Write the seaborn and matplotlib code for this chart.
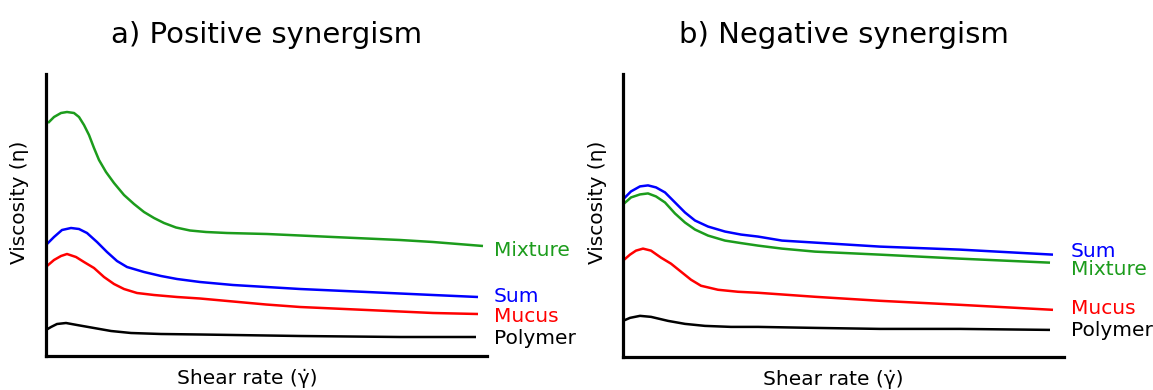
import matplotlib
matplotlib.use("Agg")
import matplotlib.pyplot as plt
import seaborn as sns
import pandas as pd

sns.set_style("white")
plt.rcParams['font.family'] = ['DejaVu Sans']
plt.rcParams['text.color'] = 'black'
plt.rcParams['axes.labelcolor'] = 'black'

# ---------------- data (arbitrary units) ----------------
# Panel a) Positive synergism
a_mix_x = [2, 8, 15, 21, 28, 33, 38, 43, 48, 53, 60, 68, 78, 88, 98, 108, 118, 130, 144, 160, 181, 221, 287, 354, 387, 437]
a_mix_y = [233, 239, 243, 244, 243, 239, 231, 221, 208, 196, 184, 173, 161, 152, 144, 138, 133, 128.5, 125.5, 124, 123, 122, 119, 116, 114, 110]
a_sum_x = [1, 8, 16, 25, 33, 41, 51, 61, 71, 81, 98, 115, 131, 154, 187, 254, 321, 387, 432]
a_sum_y = [112, 119, 126, 128, 127, 123, 114, 104, 95, 89, 84, 80, 77, 74, 71, 67, 64, 61, 59]
a_muc_x = [1, 8, 15, 21, 30, 38, 48, 58, 68, 78, 91, 108, 131, 154, 187, 220, 254, 321, 387, 432]
a_muc_y = [90, 96, 100, 102, 99, 94, 88, 79, 72, 67, 63, 61, 59, 57.5, 54.5, 51.5, 49, 46, 43, 42]
a_pol_x = [0, 5, 11, 20, 31, 48, 65, 85, 115, 154, 254, 354, 430]
a_pol_y = [26, 29, 32, 33, 31, 28, 25, 23, 22, 21.5, 20, 19, 19]

# Panel b) Negative synergism
b_sum_x = [0, 8, 17, 25, 33, 42, 52, 62, 72, 85, 102, 118, 135, 159, 192, 257, 337, 430]
b_sum_y = [157, 165, 170, 171, 169, 164, 154, 144, 136, 130, 125, 122, 120, 116, 114, 110, 107, 102]
b_mix_x = [0, 8, 17, 25, 33, 42, 52, 62, 72, 85, 102, 118, 135, 159, 192, 257, 337, 427]
b_mix_y = [152, 159, 162, 163, 160, 154, 143, 134, 127, 121, 116, 113.5, 111, 108, 105, 102, 98, 94]
b_muc_x = [0, 7, 13, 20, 28, 38, 48, 58, 68, 78, 95, 115, 135, 192, 257, 337, 430]
b_muc_y = [96, 102, 106, 108, 106, 99, 93, 85, 77, 71, 67, 65, 64, 60, 56, 52, 47]
b_pol_x = [0, 7, 17, 28, 45, 62, 82, 108, 135, 192, 257, 337, 427]
b_pol_y = [36, 39, 41, 40, 36, 33, 31, 30, 30, 29, 28, 28, 27]

series_names = ["Mixture", "Sum", "Mucus", "Polymer"]
titles = ["a) Positive synergism", "b) Negative synergism"]
x_label = "Shear rate (\u03b3\u0307)"
y_label = "Viscosity (\u03b7)"

colors = {"Mixture": "#1c9c1c", "Sum": "#0000ff", "Mucus": "#ff0000", "Polymer": "#000000"}


def build(d):
    frames = []
    for name, (xs, ys) in d.items():
        frames.append(pd.DataFrame({"x": xs, "y": ys, "series": name}))
    return pd.concat(frames, ignore_index=True)


panel_a = build({"Mixture": (a_mix_x, a_mix_y), "Sum": (a_sum_x, a_sum_y),
                 "Mucus": (a_muc_x, a_muc_y), "Polymer": (a_pol_x, a_pol_y)})
panel_b = build({"Mixture": (b_mix_x, b_mix_y), "Sum": (b_sum_x, b_sum_y),
                 "Mucus": (b_muc_x, b_muc_y), "Polymer": (b_pol_x, b_pol_y)})

fig = plt.figure(figsize=(11.53, 3.90), dpi=100)
ax_a = fig.add_axes([46 / 1153, 34 / 390, 441 / 1153, 282 / 390])
ax_b = fig.add_axes([623 / 1153, 33 / 390, 441 / 1153, 283 / 390])

# label positions (layout)
label_pos = {
    0: {"Mixture": 106, "Sum": 60, "Mucus": 39, "Polymer": 17},
    1: {"Sum": 105, "Mixture": 87, "Mucus": 48, "Polymer": 26},
}
xlab_x = [0.456, 0.476]
ylab_x = [-0.039, -0.036]

for i, (ax, df) in enumerate([(ax_a, panel_a), (ax_b, panel_b)]):
    sns.lineplot(data=df, x="x", y="y", hue="series", palette=colors,
                 hue_order=series_names, estimator=None, sort=False,
                 linewidth=1.8, legend=False, ax=ax)
    for ln in ax.get_lines():
        ln.set_solid_joinstyle("round")
        ln.set_solid_capstyle("butt")
    ax.set_xlim(0, 441)
    ax.set_ylim(0, 282)
    ax.set_xticks([])
    ax.set_yticks([])
    sns.despine(ax=ax)
    for s in ["left", "bottom"]:
        ax.spines[s].set_linewidth(2.3)
        ax.spines[s].set_color("black")
    ax.set_title(titles[i], fontsize=21, pad=22, color="black")
    ax.set_xlabel(x_label, fontsize=14.5)
    ax.set_ylabel(y_label, fontsize=14.5)
    ax.xaxis.set_label_coords(xlab_x[i], -0.045)
    ax.yaxis.set_label_coords(ylab_x[i], 0.546)
    for name, yy in label_pos[i].items():
        ax.text(448, yy, name, color=colors[name], fontsize=14.5,
                ha="left", va="center", clip_on=False)

fig.savefig("out.png", dpi=100, facecolor="white")
